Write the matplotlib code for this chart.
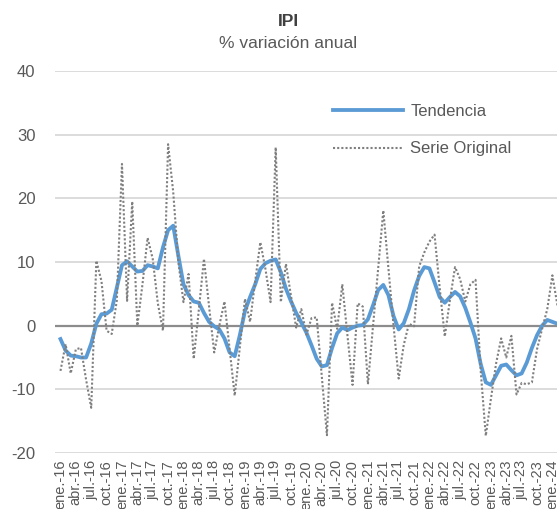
import matplotlib
matplotlib.use("Agg")
import matplotlib.pyplot as plt

# IPI, % variacion anual, mensual ene-16 .. feb-24
tendencia = [
    -2.1, -3.9, -4.7, -4.8, -5.0, -5.0, -2.8, 0.3, 1.8, 1.9, 2.5, 6.0,
    9.5, 10.1, 9.3, 8.5, 8.6, 9.5, 9.3, 9.0, 12.3, 15.0, 15.7, 11.0,
    6.5, 4.8, 3.8, 3.6, 2.0, 0.6, -0.1, -0.6, -2.0, -4.2, -4.8, -1.5,
    2.3, 4.5, 6.5, 8.9, 9.8, 10.2, 10.4, 8.4, 5.8, 3.8, 2.0, 0.5,
    -1.1, -3.1, -5.2, -6.4, -6.2, -3.5, -1.2, -0.3, -0.7, -0.3, 0.0, 0.1,
    1.0, 3.2, 5.6, 6.4, 4.8, 1.5, -0.6, 0.4, 2.6, 5.5, 7.8, 9.2,
    9.0, 6.8, 4.5, 3.6, 4.5, 5.3, 4.6, 2.8, 0.5, -2.0, -6.0, -8.9,
    -9.3, -7.8, -6.3, -6.1, -7.0, -7.8, -7.5, -5.8, -3.5, -1.5, 0.0, 0.9,
    0.6, 0.3,
]

serie_original = [
    -7.1, -2.9, -7.5, -3.7, -3.5, -8.5, -12.9, 10.2, 7.0, -0.8, -1.3, 4.0,
    25.4, 3.9, 19.5, 0.0, 6.5, 13.8, 10.5, 3.5, -0.8, 28.5, 21.0, 10.0,
    3.7, 8.1, -5.2, 2.5, 10.5, 3.0, -4.2, 0.0, 3.8, -3.6, -11.0, -3.4,
    4.2, 0.6, 7.0, 13.1, 8.9, 3.7, 28.0, 3.7, 9.7, 4.6, -0.3, 2.6,
    -1.4, 1.2, 1.3, -8.0, -17.2, 3.6, -0.5, 6.5, -1.5, -9.3, 3.5, 3.0,
    -9.2, 0.0, 9.0, 18.1, 9.0, 0.0, -8.3, -3.0, 0.3, -0.1, 9.3, 11.5,
    13.2, 14.3, 6.0, -1.7, 4.0, 9.2, 7.3, 3.8, 6.5, 7.2, -7.0, -17.3,
    -11.5, -6.0, -2.0, -5.0, -1.6, -10.8, -9.0, -9.2, -8.9, -3.7, -0.5, 2.6,
    7.9, 3.1,
]

etiquetas = [
    "ene.-16", "abr.-16", "jul.-16", "oct.-16",
    "ene.-17", "abr.-17", "jul.-17", "oct.-17",
    "ene.-18", "abr.-18", "jul.-18", "oct.-18",
    "ene.-19", "abr.-19", "jul.-19", "oct.-19",
    "ene.-20", "abr.-20", "jul.-20", "oct.-20",
    "ene.-21", "abr.-21", "jul.-21", "oct.-21",
    "ene.-22", "abr.-22", "jul.-22", "oct.-22",
    "ene.-23", "abr.-23", "jul.-23", "oct.-23",
    "ene.-24",
]

plt.rcParams['font.family'] = ['Liberation Sans', 'DejaVu Sans']
plt.rcParams['axes.unicode_minus'] = False

fig = plt.figure(figsize=(5.57, 5.09), dpi=100)
ax = fig.add_axes([55 / 557, 1 - 453 / 509, 502 / 557, 382 / 509])

meses = list(range(len(tendencia)))
ax.plot(meses, tendencia, color='#5B9BD5', lw=2.75, label='Tendencia',
        solid_joinstyle='round', zorder=3)
ax.plot(meses, serie_original, color='#7F7F7F', lw=1.5, ls=(0, (1, 1)),
        label='Serie Original', zorder=4)

ax.set_xlim(-1.07, 96.9)
ax.set_ylim(-20, 40)
ax.set_yticks(range(-20, 41, 10))
ax.yaxis.grid(True, color='#D9D9D9', lw=1.3)
ax.set_axisbelow(True)
ax.axhline(0, color='#8C8C8C', lw=1.6, zorder=2)

ax.set_xticks(range(0, 97, 3))
ax.set_xticklabels(etiquetas, rotation=90, ha='center', va='top')

for s in ax.spines.values():
    s.set_visible(False)
ax.tick_params(axis='y', length=0, pad=14, labelsize=12, colors='#595959')
ax.tick_params(axis='x', length=0, pad=5, labelsize=10.5, colors='#595959')

fig.text(288 / 557, 1 - 22 / 509, "IPI", ha='center', va='center',
         fontsize=12.5, fontweight='bold', color='#404040')
fig.text(288 / 557, 1 - 44 / 509, "% variación anual", ha='center', va='center',
         fontsize=12.5, color='#595959')

ax.legend(loc='upper left', bbox_to_anchor=(333 / 557, 1 - 104 / 509),
          bbox_transform=fig.transFigure, frameon=False, handlelength=4.2,
          handletextpad=0.45, labelspacing=1.35, fontsize=12, borderpad=0,
          borderaxespad=0, labelcolor='#595959')

fig.savefig("out.png", dpi=100)
